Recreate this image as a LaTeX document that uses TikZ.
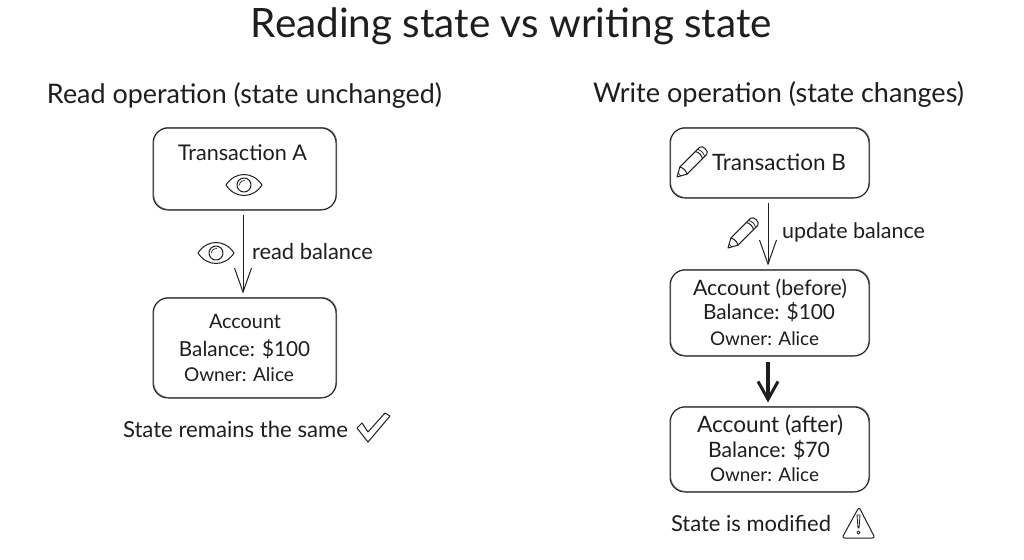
\documentclass[tikz,border=0pt]{standalone}
\usepackage{fontspec}
\usepackage{graphicx}
\setmainfont{Lato}
\usetikzlibrary{arrows.meta}
\definecolor{ink}{HTML}{1E1E1E}
\tikzset{
  x=1pt,y=-1pt,
  sk/.style={draw=ink,line width=1pt,line join=round,line cap=round},
  box/.style={draw=ink,line width=1pt,rounded corners=15pt,inner sep=0pt,
    preaction={draw=ink!60,line width=.8pt,transform canvas={xshift=.7pt,yshift=.6pt}}},
  lbl/.style={inner sep=0pt,anchor=base,text=ink},
  flow/.style={draw=ink,line width=1pt,-{Straight Barb[length=24pt,width=17pt,line width=1pt]},shorten <=4pt,shorten >=4pt},
  bold flow/.style={draw=ink,line width=3.4pt,-{Straight Barb[length=18pt,width=20pt,line width=3pt]},shorten <=5pt,shorten >=4pt},
  eye/.pic={
    \draw[sk] (-18,0) .. controls (-9,-14) and (9,-14) .. (18,0) .. controls (9,14) and (-9,14) .. (-18,0) -- cycle;
    \draw[sk] (0,0) circle[radius=7];
    \draw[sk,line width=.7pt] (-4.5,0) arc[start angle=180,end angle=280,radius=4.5];
  },
  pencil/.pic={
    \draw[sk] (0,0) -- (9,-5) -- (37,-5) .. controls (41,-5) and (41,5) .. (37,5) -- (9,5) -- cycle;
    \draw[sk] (9,-5) .. controls (11,-2) and (11,2) .. (9,5);
    \draw[sk] (31,-5) .. controls (33,-2) and (33,2) .. (31,5);
    \draw[sk,line width=.7pt] (34,-5) .. controls (36,-2) and (36,2) .. (34,5);
    \draw[sk,line width=.7pt] (3.5,-2) -- (3.5,2);
  },
}
\newcommand{\tx}[6]{\node[lbl,font=\fontsize{#5}{#5}\selectfont] (#1) at ({(#2+#3)/2},#4) {\resizebox{\dimexpr #3pt-#2pt\relax}{!}{#6}};}
\begin{document}
\begin{tikzpicture}
\useasboundingbox[fill=white] (0,0) rectangle (1024,559);
% boxes
\node[box,minimum width=183pt,minimum height=82pt] (txa) at (244.5,169) {};
\node[box,minimum width=183pt,minimum height=100pt] (acc) at (244.5,348) {};
\node[box,minimum width=199pt,minimum height=70pt] (txb) at (769.5,163) {};
\node[box,minimum width=199pt,minimum height=86pt] (before) at (769.5,313) {};
\node[box,minimum width=199pt,minimum height=85pt] (after) at (769.5,449.5) {};
% connectors
\draw[flow] ([xshift=-1.5pt]txa.south) -- ([xshift=-1.5pt]acc.north);
\draw[flow] ([xshift=-1.5pt]txb.south) -- ([xshift=-1.5pt]before.north);
\draw[bold flow] ([xshift=-1.5pt]before.south) -- ([xshift=-1.5pt]after.north);
% text
\tx{title}{251}{772}{38}{32}{Reading state vs writing state}
\tx{readhead}{47}{442}{103}{23}{Read operation (state unchanged)}
\tx{writehead}{593}{964}{103}{23}{Write operation (state changes)}
\tx{ta}{178}{307}{160}{20}{Transaction A}
\tx{rb}{252}{373}{259}{20}{read balance}
\tx{aa}{209}{281}{328}{20}{Account}
\tx{ab}{179}{310}{356}{20}{Balance: \$100}
\tx{ao}{184}{294}{381}{20}{Owner: Alice}
\tx{same}{123}{348}{437}{20}{State remains the same}
\tx{tb}{712}{846}{170}{20}{Transaction B}
\tx{ub}{782}{925}{238}{20}{update balance}
\tx{ba}{693}{847}{295}{20}{Account (before)}
\tx{bb}{703}{835}{319}{20}{Balance: \$100}
\tx{bo}{710}{819}{345}{20}{Owner: Alice}
\tx{fa}{697}{843}{432}{20}{Account (after)}
\tx{fb}{708}{830}{457}{20}{Balance: \$70}
\tx{fo}{710}{819}{481}{20}{Owner: Alice}
\tx{mod}{671}{831}{531}{20}{State is modified}
% icons
\pic at (244,185) {eye};
\pic at (216,253) {eye};
\pic[rotate=45] at (677,177) {pencil};
\pic[rotate=45] at (728,248) {pencil};
% check mark
\draw[sk] (357,428) -- (362,423) -- (368,432) -- (385,413) -- (390,416) -- (368,442) -- cycle;
% warning sign
\draw[sk,rounded corners=2.5pt] (859,507) -- (875,538) -- (842,538) -- cycle;
\draw[sk,line width=.8pt] (857,515) -- (860,515) -- (859,528) -- (858,528) -- cycle;
\draw[sk,line width=.8pt] (858.5,532.5) circle[radius=1.6];
\end{tikzpicture}
\end{document}
